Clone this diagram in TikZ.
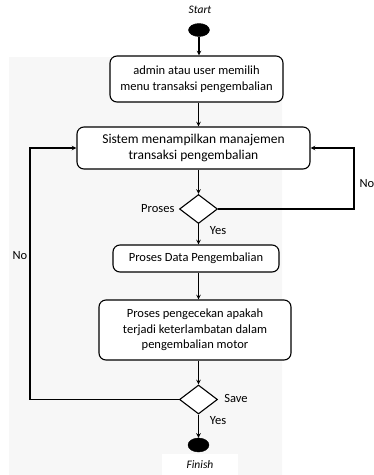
\documentclass[tikz,border=0pt]{standalone}
\usepackage{fontspec}
\setmainfont{Carlito}
\usetikzlibrary{arrows}
\usetikzlibrary{shapes.geometric, positioning, calc}

\begin{document}
\begin{tikzpicture}[x=1pt, y=-1pt,
    act/.style={draw, line width=1.1pt, rounded corners=7pt, align=center, inner sep=0pt, font=\fontsize{12.5}{15.5}\selectfont},
    dec/.style={diamond, draw, line width=1.1pt, minimum width=38pt, minimum height=29pt, inner sep=0pt},
    dot/.style={ellipse, fill=black, draw=black, inner sep=0pt, minimum width=21pt, minimum height=13pt},
    flow/.style={->, >=stealth, line width=1.1pt},
    lbl/.style={font=\fontsize{12.5}{14}\selectfont}]
      \useasboundingbox (0,0) rectangle (374,475);
      % faint watermark behind the chart
      \fill[black!3] (9,475) -- (9,57) [rounded corners=40pt] -- (282,57) -- (282,200) [sharp corners] -- (282,475) -- cycle;

      \node[font=\itshape\fontsize{11.5}{13}\selectfont] (start) at (200,10) {Start};
      \node[dot] (init) at (199,30) {};
      \node[act, fill=white, minimum width=173pt, minimum height=46pt] (menu) at (196.5,79) {admin atau user memilih\\menu transaksi pengembalian};
      \node[act, fill=white, minimum width=233pt, minimum height=42pt, font=\fontsize{13.5}{16}\selectfont] (tampil) at (193.5,148) {Sistem menampilkan manajemen\\transaksi pengembalian};
      \node[dec, fill=white] (cek) at (198.5,209) {};
      \node[lbl, left=1pt of cek] (lproses) {Proses};
      \node[act, fill=white, minimum width=166pt, minimum height=27pt] (data) at (196,258.5) {Proses Data Pengembalian};
      \node[act, fill=white, minimum width=192pt, minimum height=60pt] (telat) at (195,330) {Proses pengecekan apakah\\terjadi keterlambatan dalam\\pengembalian motor};
      \node[dec, fill=white] (save) at (198.5,399.5) {};
      \node[dot, minimum height=14pt] (final) at (198.5,445) {};
      \node[fill=white, minimum width=76pt, minimum height=21pt, font=\itshape\fontsize{11.5}{13}\selectfont] (finish) at (200,464.5) {Finish};

      \node[lbl] (lyesa) at (218,231) {Yes};
      \node[lbl] (lnoa) at (367,184) {No};
      \node[lbl] (lsave) at (236,398) {Save};
      \node[lbl] (lyesb) at (218,421) {Yes};
      \node[lbl] (lnob) at (20,256) {No};

      \coordinate (kanan) at (354,0);
      \coordinate (kiri) at (30,300);

      \draw[flow] (init) -- (menu.north -| init);
      \draw[flow] (menu.south -| cek) -- (tampil.north -| cek);
      \draw[flow] (tampil.south -| cek) -- (cek.north);
      \draw[flow] (cek.south) -- (data.north -| cek);
      \draw[flow] (data.south -| cek) -- (telat.north -| cek);
      \draw[flow] (telat.south -| cek) -- (save.north);
      \draw[flow] (save.south) -- (final.north);

      \draw[flow] (cek.east) -- (cek.east -| kanan) -- (tampil.east -| kanan) -- (tampil.east);
      \draw[flow] (save.west) -| (kiri) |- (tampil.west);

    \end{tikzpicture}
\end{document}
